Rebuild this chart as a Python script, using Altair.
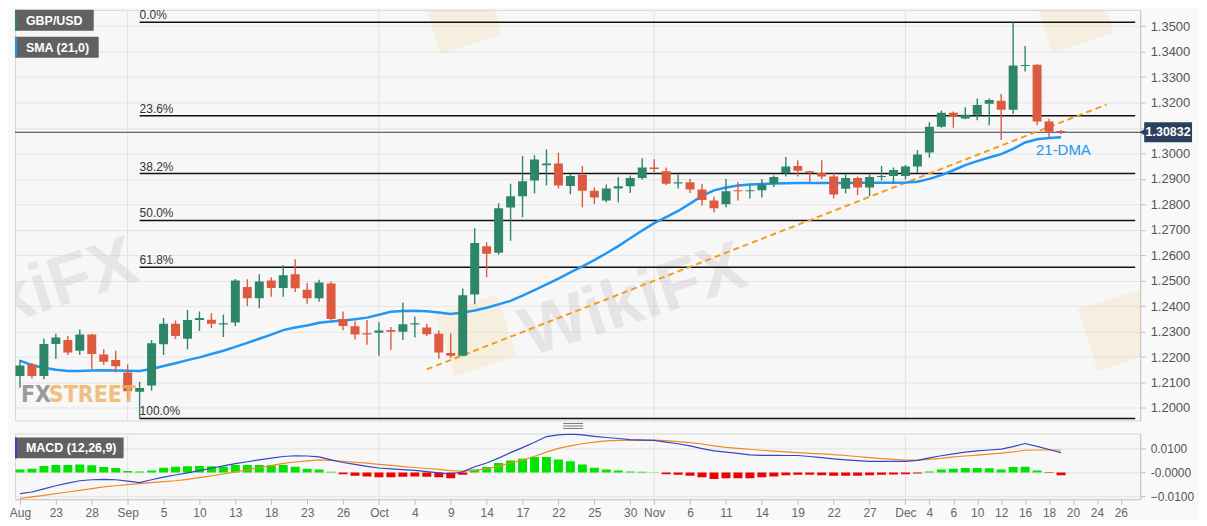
import altair as alt
import pandas as pd

# trading-day index: 0 = Fri 23 Aug 2019, -3 = Tue 20 Aug, 84 = Thu 19 Dec
day = list(range(-3, 85))

opens = [
    1.2126, 1.2171, 1.2126, 1.2251, 1.2267, 1.2225, 1.2289, 1.2210, 1.2189, 1.2139,
    1.2064, 1.2088, 1.2250, 1.2331, 1.2272, 1.2346, 1.2347, 1.2328, 1.2336, 1.2475,
    1.2431, 1.2501, 1.2471, 1.2525, 1.2465, 1.2431, 1.2489, 1.2350, 1.2321, 1.2294,
    1.2296, 1.2306, 1.2300, 1.2328, 1.2316, 1.2292, 1.2216, 1.2205, 1.2446, 1.2635,
    1.2610, 1.2788, 1.2832, 1.2894, 1.2954, 1.2960, 1.2872, 1.2916, 1.2853, 1.2815,
    1.2862, 1.2871, 1.2903, 1.2945, 1.2930, 1.2882, 1.2887, 1.2858, 1.2815, 1.2800,
    1.2855, 1.2851, 1.2855, 1.2881, 1.2923, 1.2951, 1.2930, 1.2923, 1.2909, 1.2861,
    1.2903, 1.2866, 1.2907, 1.2911, 1.2911, 1.2949, 1.3004, 1.3105, 1.3160, 1.3137,
    1.3152, 1.3195, 1.3207, 1.3172, 1.3343, 1.3348, 1.3125, 1.3088,
]
highs = [
    1.2190, 1.2177, 1.2273, 1.2292, 1.2283, 1.2308, 1.2292, 1.2231, 1.2225, 1.2171,
    1.2103, 1.2267, 1.2354, 1.2344, 1.2385, 1.2379, 1.2372, 1.2367, 1.2507, 1.2506,
    1.2525, 1.2514, 1.2561, 1.2584, 1.2491, 1.2504, 1.2497, 1.2379, 1.2341, 1.2346,
    1.2337, 1.2318, 1.2414, 1.2359, 1.2331, 1.2305, 1.2293, 1.2469, 1.2706, 1.2651,
    1.2804, 1.2881, 1.2990, 1.2993, 1.3015, 1.3003, 1.2919, 1.2951, 1.2866, 1.2878,
    1.2907, 1.2913, 1.2981, 1.2977, 1.2945, 1.2917, 1.2900, 1.2881, 1.2830, 1.2900,
    1.2888, 1.2875, 1.2900, 1.2913, 1.2987, 1.2973, 1.2932, 1.2973, 1.2926, 1.2917,
    1.2909, 1.2917, 1.2951, 1.2945, 1.2955, 1.3013, 1.3122, 1.3169, 1.3165, 1.3181,
    1.3216, 1.3216, 1.3233, 1.3514, 1.3422, 1.3350, 1.3136, 1.3092,
]
lows = [
    1.2080, 1.2116, 1.2113, 1.2193, 1.2208, 1.2208, 1.2152, 1.2170, 1.2139, 1.2036,
    1.1959, 1.2068, 1.2208, 1.2271, 1.2231, 1.2302, 1.2314, 1.2279, 1.2321, 1.2401,
    1.2392, 1.2437, 1.2437, 1.2456, 1.2410, 1.2417, 1.2344, 1.2305, 1.2269, 1.2248,
    1.2205, 1.2228, 1.2267, 1.2277, 1.2283, 1.2193, 1.2197, 1.2203, 1.2408, 1.2514,
    1.2602, 1.2657, 1.2749, 1.2843, 1.2874, 1.2862, 1.2840, 1.2789, 1.2801, 1.2808,
    1.2807, 1.2845, 1.2897, 1.2926, 1.2875, 1.2862, 1.2845, 1.2795, 1.2768, 1.2789,
    1.2815, 1.2823, 1.2827, 1.2868, 1.2909, 1.2909, 1.2888, 1.2900, 1.2823, 1.2843,
    1.2836, 1.2832, 1.2894, 1.2884, 1.2898, 1.2923, 1.2983, 1.3101, 1.3101, 1.3134,
    1.3130, 1.3111, 1.3053, 1.3155, 1.3322, 1.3111, 1.3063, 1.3076,
]
closes = [
    1.2167, 1.2126, 1.2251, 1.2277, 1.2218, 1.2289, 1.2212, 1.2182, 1.2164, 1.2066,
    1.2079, 1.2254, 1.2331, 1.2283, 1.2346, 1.2354, 1.2331, 1.2333, 1.2501, 1.2431,
    1.2497, 1.2471, 1.2521, 1.2470, 1.2431, 1.2493, 1.2350, 1.2322, 1.2289, 1.2289,
    1.2304, 1.2300, 1.2329, 1.2333, 1.2290, 1.2218, 1.2205, 1.2443, 1.2648, 1.2606,
    1.2785, 1.2832, 1.2891, 1.2976, 1.2960, 1.2874, 1.2911, 1.2853, 1.2827, 1.2862,
    1.2871, 1.2903, 1.2945, 1.2939, 1.2881, 1.2887, 1.2858, 1.2817, 1.2785, 1.2851,
    1.2851, 1.2855, 1.2878, 1.2907, 1.2949, 1.2932, 1.2924, 1.2909, 1.2839, 1.2903,
    1.2866, 1.2907, 1.2911, 1.2935, 1.2949, 1.2996, 1.3105, 1.3160, 1.3146, 1.3152,
    1.3190, 1.3210, 1.3172, 1.3345, 1.3347, 1.3125, 1.3085, 1.3083,
]
sma21 = [
    1.2186, 1.2168, 1.2158, 1.2150, 1.2145, 1.2145, 1.2147, 1.2148, 1.2147, 1.2146,
    1.2145, 1.2153, 1.2165, 1.2176, 1.2188, 1.2199, 1.2212, 1.2225, 1.2240, 1.2256,
    1.2272, 1.2288, 1.2306, 1.2316, 1.2324, 1.2335, 1.2340, 1.2344, 1.2349, 1.2355,
    1.2366, 1.2378, 1.2381, 1.2382, 1.2380, 1.2375, 1.2369, 1.2375, 1.2383, 1.2394,
    1.2407, 1.2421, 1.2441, 1.2463, 1.2486, 1.2508, 1.2533, 1.2556, 1.2581, 1.2608,
    1.2636, 1.2667, 1.2697, 1.2726, 1.2750, 1.2774, 1.2803, 1.2833, 1.2855, 1.2866,
    1.2874, 1.2878, 1.2880, 1.2882, 1.2883, 1.2884, 1.2884, 1.2884, 1.2884, 1.2884,
    1.2885, 1.2885, 1.2885, 1.2885, 1.2886, 1.2889, 1.2900, 1.2915, 1.2934, 1.2954,
    1.2970, 1.2984, 1.2997, 1.3018, 1.3043, 1.3056, 1.3061, 1.3064,
]
macd = [
    -0.0088, -0.0081, -0.0068, -0.0055, -0.0044, -0.0034, -0.0030, -0.0028, -0.0030, -0.0036,
    -0.0042, -0.0030, -0.0019, -0.0010, -0.0001, 0.0008, 0.0018, 0.0028, 0.0037, 0.0045,
    0.0053, 0.0060, 0.0067, 0.0070, 0.0069, 0.0065, 0.0053, 0.0042, 0.0034, 0.0026,
    0.0019, 0.0015, 0.0012, 0.0009, 0.0004, -0.0001, -0.0006, 0.0003, 0.0024, 0.0040,
    0.0060, 0.0083, 0.0104, 0.0126, 0.0150, 0.0157, 0.0160, 0.0157, 0.0151, 0.0146,
    0.0142, 0.0137, 0.0135, 0.0134, 0.0127, 0.0120, 0.0111, 0.0100, 0.0090, 0.0085,
    0.0080, 0.0074, 0.0072, 0.0072, 0.0071, 0.0071, 0.0067, 0.0062, 0.0057, 0.0053,
    0.0050, 0.0047, 0.0047, 0.0047, 0.0047, 0.0051, 0.0061, 0.0070, 0.0078, 0.0085,
    0.0090, 0.0094, 0.0098, 0.0108, 0.0121, 0.0109, 0.0096, 0.0083,
]
signal = [
    -0.0108, -0.0101, -0.0095, -0.0088, -0.0081, -0.0074, -0.0067, -0.0060, -0.0055, -0.0050,
    -0.0046, -0.0042, -0.0038, -0.0034, -0.0028, -0.0021, -0.0014, -0.0006, 0.0003, 0.0011,
    0.0020, 0.0029, 0.0038, 0.0044, 0.0049, 0.0053, 0.0051, 0.0047, 0.0043, 0.0039,
    0.0034, 0.0030, 0.0025, 0.0021, 0.0017, 0.0013, 0.0008, 0.0006, 0.0009, 0.0015,
    0.0027, 0.0040, 0.0052, 0.0068, 0.0085, 0.0101, 0.0111, 0.0120, 0.0127, 0.0132,
    0.0134, 0.0134, 0.0135, 0.0135, 0.0133, 0.0129, 0.0125, 0.0119, 0.0111, 0.0105,
    0.0101, 0.0097, 0.0093, 0.0089, 0.0086, 0.0083, 0.0080, 0.0078, 0.0075, 0.0071,
    0.0067, 0.0062, 0.0058, 0.0055, 0.0052, 0.0052, 0.0055, 0.0059, 0.0065, 0.0069,
    0.0073, 0.0077, 0.0081, 0.0086, 0.0093, 0.0094, 0.0094, 0.0094,
]
hist = [
    0.0013, 0.0016, 0.0027, 0.0031, 0.0031, 0.0034, 0.0030, 0.0023, 0.0019, 0.0007,
    0.0004, 0.0009, 0.0020, 0.0024, 0.0026, 0.0027, 0.0026, 0.0024, 0.0032, 0.0032,
    0.0031, 0.0031, 0.0031, 0.0024, 0.0016, 0.0013, 0.0003, -0.0007, -0.0013, -0.0016,
    -0.0020, -0.0020, -0.0017, -0.0016, -0.0017, -0.0020, -0.0024, -0.0009, 0.0013, 0.0023,
    0.0040, 0.0050, 0.0058, 0.0065, 0.0065, 0.0054, 0.0047, 0.0034, 0.0020, 0.0013,
    0.0009, 0.0004, 0.0003, 0.0001, -0.0007, -0.0009, -0.0013, -0.0020, -0.0027, -0.0024,
    -0.0024, -0.0024, -0.0020, -0.0016, -0.0011, -0.0009, -0.0009, -0.0011, -0.0013, -0.0013,
    -0.0013, -0.0011, -0.0009, -0.0008, -0.0007, -0.0004, 0.0004, 0.0013, 0.0016, 0.0019,
    0.0019, 0.0018, 0.0013, 0.0023, 0.0024, 0.0009, -0.0002, -0.0011,
]

tick_days = [-3, 0, 3, 6, 9, 12, 15, 18, 21, 24, 27, 30, 33, 36, 39, 42, 45, 48,
             50, 53, 56, 59, 62, 65, 68, 71, 73, 75, 77, 79, 81, 83, 85, 87, 89]
tick_labels = ["Aug", "23", "28", "Sep", "5", "10", "13", "18", "23", "26", "Oct", "4",
               "9", "14", "17", "22", "25", "30", "Nov", "6", "11", "14", "19", "22",
               "27", "Dec", "4", "6", "10", "12", "16", "18", "20", "24", "26"]
month_days = [6, 27, 50, 71]

price_ticks = [1.20, 1.21, 1.22, 1.23, 1.24, 1.25, 1.26, 1.27,
               1.28, 1.29, 1.30, 1.31, 1.32, 1.33, 1.34, 1.35]
macd_ticks = [-0.01, 0.0, 0.01]

fib_labels = ["0.0%", "23.6%", "38.2%", "50.0%", "61.8%", "100.0%"]
fib_levels = [1.3515, 1.3148, 1.2921, 1.2737, 1.2553, 1.1959]
fib_start = 7

trend_days = [31.0, 87.8]
trend_prices = [1.2152, 1.3192]

last_price = 1.30832

W = 1129
H_MAIN = 412
H_MACD = 66
X_DOM = [-3, 90.2]

GREEN = "#2e8668"
RED = "#dc5a3f"
BLUE = "#2196f3"
NAVY = "#2c3f5e"
FONT = "Liberation Sans"
LOGO_FONT = "'DejaVu Sans Condensed', 'DejaVu Sans', sans-serif"

x_scale = alt.Scale(domain=X_DOM, nice=False, zero=False)
p_scale = alt.Scale(domain=[1.1951, 1.3564], nice=False, zero=False)
m_scale = alt.Scale(domain=[-0.0111, 0.0163], nice=False, zero=False)

df = pd.DataFrame({
    "day": day, "open": opens, "high": highs, "low": lows, "close": closes,
    "sma": sma21, "macd": macd, "signal": signal, "hist": hist,
})
X = alt.X("day:Q", scale=x_scale, axis=None)
candle_color = alt.condition("datum.close >= datum.open", alt.value(GREEN), alt.value(RED))
one = pd.DataFrame({"k": [0]})

# ---------- price panel ----------
price_axis = alt.Axis(orient="right", values=price_ticks, format=".4f", grid=True,
                      gridColor="#e5e5e5", tickColor="#bdbdbd", tickSize=5,
                      domainColor="#c8c8c8", labelColor="#555", labelFontSize=13,
                      labelPadding=5, labelOverlap=False, title=None)


def Yp(field):
    return alt.Y(field, scale=p_scale, axis=price_axis, title=None)


months_main = alt.Chart(pd.DataFrame({"day": month_days})).mark_rule(
    color="#e2e2e2", strokeWidth=1).encode(x=X)

wm = pd.DataFrame({"day": [-2.6, 48.3], "p": [1.2440, 1.2420], "t": ["WikiFX", "WikiFX"]})
wikifx = alt.Chart(wm).mark_text(
    fontSize=70, fontWeight="bold", color="#c9c2c2", opacity=0.35, angle=342, clip=True
).encode(x=X, y=Yp("p:Q"), text="t:N")

logos = pd.DataFrame({"day": [35.1, 88.8, 33.9, 85.0], "p": [1.2286, 1.2305, 1.3550, 1.3555]})
logo_marks = alt.Chart(logos).mark_point(
    shape="square", filled=True, size=4200, color="#f3cf73", opacity=0.18, angle=342, clip=True
).encode(x=X, y=Yp("p:Q"))

fib = pd.DataFrame({"level": fib_levels, "label": fib_labels,
                    "start": fib_start, "end": X_DOM[1]})
fib_rules = alt.Chart(fib).mark_rule(color="#111", strokeWidth=1.5).encode(
    x=alt.X("start:Q", scale=x_scale, axis=None), x2="end:Q", y=Yp("level:Q"))
fib_text = alt.Chart(fib).mark_text(
    align="left", baseline="alphabetic", dx=0, dy=-3, fontSize=12, color="#333"
).encode(x=alt.X("start:Q", scale=x_scale, axis=None), y=Yp("level:Q"), text="label:N")

last = pd.DataFrame({"p": [last_price], "hi": [last_price + 0.0039],
                     "lo": [last_price - 0.0039], "t": [f"{last_price:.5f}"]})
last_rule = alt.Chart(last).mark_rule(color=NAVY, strokeWidth=1).encode(y=Yp("p:Q"))

trend = pd.DataFrame({"day": trend_days, "p": trend_prices})
trend_line = alt.Chart(trend).mark_line(
    color="#f39c1f", strokeWidth=2, strokeDash=[6, 4], clip=True
).encode(x=X, y=Yp("p:Q"))

sma_line = alt.Chart(df).mark_line(color=BLUE, strokeWidth=2.5, clip=True).encode(
    x=X, y=Yp("sma:Q"))

wicks = alt.Chart(df).mark_rule(strokeWidth=1.4, clip=True).encode(
    x=X, y=Yp("low:Q"), y2="high:Q", color=candle_color)
bodies = alt.Chart(df).mark_bar(size=9, clip=True).encode(
    x=X, y=Yp("open:Q"), y2="close:Q", color=candle_color)

dma_label = alt.Chart(pd.DataFrame({"day": [84.2], "p": [1.3015], "t": ["21-DMA"]})).mark_text(
    fontSize=15, color=BLUE, align="center", baseline="middle"
).encode(x=X, y=Yp("p:Q"), text="t:N")

price_box = alt.Chart(last).mark_rect(color=NAVY).encode(
    x=alt.value(W + 4), x2=alt.value(W + 52), y=Yp("hi:Q"), y2="lo:Q")
price_arrow = alt.Chart(last).mark_point(
    shape="triangle-left", filled=True, size=45, color=NAVY, opacity=1
).encode(x=alt.value(W + 2), y=Yp("p:Q"))
price_text = alt.Chart(last).mark_text(
    color="white", fontWeight="bold", fontSize=12.5, align="center", baseline="middle"
).encode(x=alt.value(W + 28), y=Yp("p:Q"), text="t:N")

fx = alt.Chart(pd.DataFrame({"t": ["FX"]})).mark_text(
    font=LOGO_FONT, fontWeight="bold", fontSize=23, color="#8a8a8a",
    opacity=0.85, align="left", baseline="alphabetic"
).encode(x=alt.value(6), y=alt.value(393), text="t:N")
street = alt.Chart(pd.DataFrame({"t": ["STREET"]})).mark_text(
    font=LOGO_FONT, fontWeight="bold", fontSize=23, color="#f2b060",
    opacity=0.8, align="left", baseline="alphabetic"
).encode(x=alt.value(34), y=alt.value(393), text="t:N")


def tag(text, y0, w, stripe):
    box = alt.Chart(one).mark_rect(color="#616161").encode(
        x=alt.value(0), x2=alt.value(w), y=alt.value(y0), y2=alt.value(y0 + 21))
    bar = alt.Chart(one).mark_rect(color=stripe).encode(
        x=alt.value(0), x2=alt.value(2), y=alt.value(y0), y2=alt.value(y0 + 21))
    label = alt.Chart(one).mark_text(
        color="white", fontWeight="bold", fontSize=12.5, align="left", baseline="middle"
    ).encode(x=alt.value(11), y=alt.value(y0 + 11), text=alt.value(text))
    return box + bar + label


# small resize handle between the two panels
handle = alt.layer(*[
    alt.Chart(one).mark_rule(color="#777", strokeWidth=1).encode(
        x=alt.value(550), x2=alt.value(570), y=alt.value(H_MAIN + v))
    for v in (3, 5.5, 8)
])

main = alt.layer(
    months_main, wikifx, logo_marks, fib_rules, fib_text, last_rule, trend_line,
    sma_line, wicks, bodies, dma_label, price_box, price_arrow, price_text,
    fx, street, tag("GBP/USD", 0, 79, GREEN), tag("SMA (21,0)", 27, 84, BLUE), handle,
).properties(width=W, height=H_MAIN)

# ---------- MACD panel ----------
label_expr = ("[" + ",".join(f"'{t}'" for t in tick_labels) + "][indexof(["
              + ",".join(str(d) for d in tick_days) + "], datum.value)]")
x_axis = alt.Axis(values=tick_days, labelExpr=label_expr, grid=False, tickColor="#bdbdbd",
                  tickSize=5, domainColor="#c8c8c8", labelColor="#666", labelFontSize=12,
                  labelPadding=3, labelFlush=True, labelOverlap=False, title=None)
macd_axis = alt.Axis(orient="right", values=macd_ticks,
                     labelExpr="datum.value == 0 ? '-0.0000' : format(datum.value, '.4f')",
                     grid=True, gridColor="#e3e3e3", tickColor="#bdbdbd", tickSize=5,
                     domainColor="#c8c8c8", labelColor="#555", labelFontSize=12,
                     labelPadding=5, labelOverlap=False, title=None)

Xm = alt.X("day:Q", scale=x_scale, axis=x_axis)


def Ym(field):
    return alt.Y(field, scale=m_scale, axis=macd_axis, title=None)


months_macd = alt.Chart(pd.DataFrame({"day": month_days})).mark_rule(
    color="#e2e2e2", strokeWidth=1).encode(x=Xm)

bars = alt.Chart(df).mark_bar(size=9, clip=True).encode(
    x=Xm, y=Ym("hist:Q"), y2=alt.datum(0),
    color=alt.condition("datum.hist >= 0", alt.value("#00e400"), alt.value("#f00000")))
sig_line = alt.Chart(df).mark_line(color="#f08a24", strokeWidth=1.2, clip=True).encode(
    x=Xm, y=Ym("signal:Q"))
macd_line = alt.Chart(df).mark_line(color="#3346c4", strokeWidth=1.2, clip=True).encode(
    x=Xm, y=Ym("macd:Q"))

macd_panel = alt.layer(
    months_macd, bars, sig_line, macd_line,
    tag("MACD (12,26,9)", 4, 109, "#3346c4"),
).properties(width=W, height=H_MACD)

chart = alt.vconcat(main, macd_panel, spacing=3).properties(
    padding={"left": 0, "top": 0, "right": 4, "bottom": 0}
).configure(background="#f9f9f9", font=FONT).configure_axis(
    labelOverlap=False
).configure_view(stroke="#d6d6d6", fill="#f7f7f7")

chart.save("out.html", embed_options={"renderer": "svg", "actions": False})
